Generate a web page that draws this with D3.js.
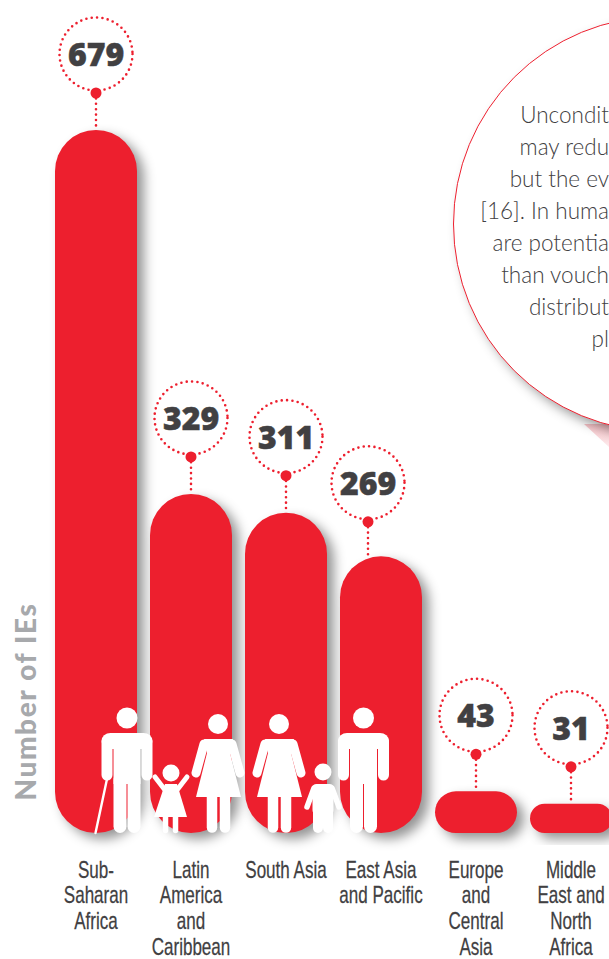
<!DOCTYPE html>
<html>
<head>
  <meta charset="utf-8">
  <style>
    body { margin: 0; background: #fff; }
    svg { display: block; overflow: hidden; }
    .value { font: 800 32px "Open Sans", sans-serif; fill: #414042; stroke: #414042; stroke-width: 0.5; text-anchor: middle; }
    .cat text { font: 24px "Liberation Sans", sans-serif; fill: #414042; stroke: #414042; stroke-width: 0.25; }
    .note { font: 300 22.5px Lato, sans-serif; fill: #414042; text-anchor: end; }
    .ytitle { font: 900 28px Lato, sans-serif; fill: #a7a9ac; letter-spacing: 1.6px; text-anchor: middle; }
    .dots { fill: none; stroke: #ed1f2e; stroke-width: 2.6; stroke-linecap: round; stroke-dasharray: 0 5.4; }
  </style>
</head>

<body>
  <script src="https://d3js.org/d3.v7.min.js"></script>
  <script>
    var regions = ["Sub-Saharan Africa", "Latin America and Caribbean", "South Asia", "East Asia and Pacific", "Europe and Central Asia", "Middle East and North Africa"];
    var counts = [679, 329, 311, 269, 43, 31];
    var regionLines = [
      ["Sub-", "Saharan", "Africa"],
      ["Latin", "America", "and", "Caribbean"],
      ["South Asia"],
      ["East Asia", "and Pacific"],
      ["Europe", "and", "Central", "Asia"],
      ["Middle", "East and", "North", "Africa"]
    ];
    // text of the callout, cut by the edge of the picture
    var noteLines = ["Uncondit", "may redu", "but the ev", "[16]. In huma", "are potentia", "than vouch", "distribut", "pl"];

    var red = "#ed1f2e";
    var width = 609, height = 959, floor = 833;

    var svg = d3.select("body").append("svg")
        .attr("width", width)
        .attr("height", height);

    var defs = svg.append("defs");
    var shadow = defs.append("filter").attr("id", "shadow")
        .attr("x", "-30%").attr("y", "-30%").attr("width", "170%").attr("height", "170%")
        .attr("color-interpolation-filters", "sRGB");
    shadow.append("feDropShadow")
        .attr("dx", 7).attr("dy", 6).attr("stdDeviation", 6)
        .attr("flood-color", "#000").attr("flood-opacity", 0.42);

    var tail = defs.append("linearGradient").attr("id", "tail")
        .attr("x1", 0).attr("y1", 0).attr("x2", 0).attr("y2", 1);
    tail.append("stop").attr("offset", 0).attr("stop-color", "#f7c3c8");
    tail.append("stop").attr("offset", 1).attr("stop-color", "#fdeaec");

    var x = d3.scaleBand().domain(regions).range([48.5, 618.5]).paddingInner(0.137).paddingOuter(0.0685);
    var y = d3.scaleLinear().domain([0, 679]).range([836, 130]);

    // callout
    svg.append("path").attr("d", "M584,424L609,447L609,424Z").attr("fill", "url(#tail)");
    svg.append("circle")
        .attr("cx", 661).attr("cy", 224).attr("r", 207.5)
        .attr("fill", "#fff").attr("stroke", red).attr("stroke-width", 1)
        .attr("filter", "url(#shadow)");
    svg.selectAll(".note").data(noteLines).enter().append("text")
        .attr("class", "note")
        .attr("x", 609)
        .attr("y", function(d, i) { return 123 + i * 32; })
        .text(function(d) { return d; });

    // bars
    svg.selectAll(".bar").data(counts).enter().append("rect")
        .attr("class", "bar")
        .attr("x", function(d, i) { return x(regions[i]); })
        .attr("y", function(d) { return y(d); })
        .attr("width", x.bandwidth())
        .attr("height", function(d) { return floor - y(d); })
        .attr("rx", function(d) { return Math.min(41, (floor - y(d)) / 2); })
        .attr("fill", red)
        .attr("filter", "url(#shadow)");

    // value bubbles, the one for East Asia sits off centre and a bit lower
    var bubble = svg.selectAll(".bubble").data(counts).enter().append("g")
        .attr("class", "bubble")
        .attr("transform", function(d, i) {
          var shift = i == 3 ? -13 : 0, drop = i == 3 ? 2.5 : 0;
          return "translate(" + (x(regions[i]) + x.bandwidth() / 2 + shift) + "," + (y(d) + drop) + ")";
        });
    bubble.append("line").attr("class", "dots").attr("y1", -37)
        .attr("y2", function(d, i) { return i == 3 ? -2.5 : 0; });
    bubble.append("circle").attr("class", "dots").attr("cy", -76).attr("r", 36.5);
    bubble.append("circle").attr("cy", -37).attr("r", 5.5).attr("fill", red);
    bubble.append("text").attr("class", "value").attr("y", -64).text(function(d) { return d; });

    // region labels
    var axis = d3.axisBottom(x).tickSize(0).tickFormat("");
    var cat = svg.append("g").attr("class", "cat")
        .attr("transform", "translate(0,877.5)")
        .call(axis);
    cat.select(".domain").remove();
    cat.selectAll(".tick text").each(function(d, i) {
      var t = d3.select(this).attr("y", 0).attr("dy", null)
          .attr("transform", "scale(0.71,1)")
          .attr("text-anchor", "middle");
      regionLines[i].forEach(function(line, k) {
        t.append("tspan").attr("x", 0).attr("y", k * 25.8).text(line);
      });
    });

    svg.append("text")
        .attr("class", "ytitle")
        .attr("transform", "translate(36,701.5) rotate(-90)")
        .text("Number of IEs");

    // people
    var people = svg.append("g").attr("fill", "#fff").attr("stroke", "#fff");
    function limb(g, x1, y1, x2, y2, w) {
      g.append("line").attr("x1", x1).attr("y1", y1).attr("x2", x2).attr("y2", y2)
          .attr("stroke-width", w).attr("stroke-linecap", "round");
    }
    function head(g, cx, cy, r) {
      g.append("circle").attr("cx", cx).attr("cy", cy).attr("r", r).attr("stroke", "none");
    }
    function man(cx) {
      var g = people.append("g");
      head(g, cx, 718, 10.5);
      g.append("rect").attr("x", cx - 25.5).attr("y", 733).attr("width", 51).attr("height", 16).attr("rx", 9).attr("stroke", "none");
      limb(g, cx - 20, 742, cx - 20, 775, 11);
      limb(g, cx + 20, 742, cx + 20, 775, 11);
      g.append("rect").attr("x", cx - 13.5).attr("y", 742).attr("width", 27).attr("height", 42).attr("stroke", "none");
      limb(g, cx - 7, 780, cx - 7, 826.5, 13);
      limb(g, cx + 7, 780, cx + 7, 826.5, 13);
    }
    function woman(cx) {
      var g = people.append("g");
      head(g, cx, 724, 10);
      g.append("path").attr("stroke", "none")
          .attr("d", "M" + (cx - 14) + ",739L" + (cx + 15) + ",739L" + (cx + 12) + ",753L" + (cx + 23) + ",797L" + (cx - 22) + ",797L" + (cx - 11) + ",753Z");
      limb(g, cx - 14, 744, cx - 22, 773, 9);
      limb(g, cx + 14, 744, cx + 22, 773, 9);
      limb(g, cx - 6, 795, cx - 6, 827.5, 10.5);
      limb(g, cx + 7, 795, cx + 7, 827.5, 10.5);
    }
    function girl(cx) {
      var g = people.append("g");
      head(g, cx, 773, 8.5);
      g.append("path").attr("stroke", "none")
          .attr("d", "M" + (cx - 6) + ",784L" + (cx + 6) + ",784L" + (cx + 16) + ",817L" + (cx - 17) + ",817Z");
      limb(g, cx - 6, 790, cx - 16, 777, 5);
      limb(g, cx + 6, 790, cx + 16, 777, 5);
      limb(g, cx - 5.5, 815, cx - 5.5, 830.5, 5.5);
      limb(g, cx + 4.5, 815, cx + 4.5, 830.5, 5.5);
    }
    function boy(cx) {
      var g = people.append("g");
      head(g, cx, 772, 8.5);
      g.append("rect").attr("x", cx - 10.5).attr("y", 784).attr("width", 21).attr("height", 30).attr("rx", 4).attr("stroke", "none");
      limb(g, cx - 9, 788, cx - 16, 807, 5.5);
      limb(g, cx + 9, 788, cx + 16, 807, 5.5);
      limb(g, cx - 5, 812, cx - 5, 828, 10);
      limb(g, cx + 5, 812, cx + 5, 828, 10);
    }
    man(127);
    limb(people, 107, 779, 95.5, 833, 2.4);
    girl(171);
    woman(218);
    woman(279);
    boy(323);
    man(363.5);
  </script>
</body>
</html>
